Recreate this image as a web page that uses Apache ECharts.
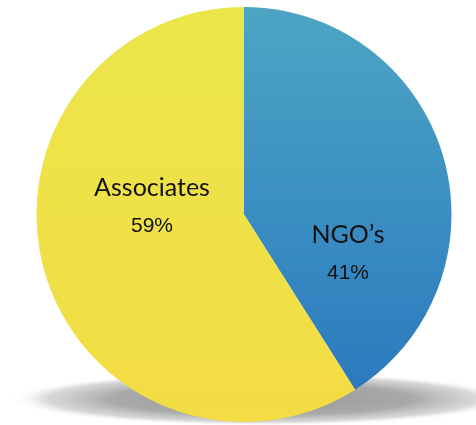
<!DOCTYPE html>
<html><head><meta charset="utf-8">
<script src="https://cdn.jsdelivr.net/npm/echarts@6/dist/echarts.min.js"></script>
<style>html,body{margin:0;padding:0;background:#fff}#c{width:476px;height:425px}</style>
</head><body><div id="c"></div>
<script>
const categories = ["NGO\u2019s", "Associates"];
const values = [41, 59];
const sliceColors = [["#4da5c4", "#2b7abf"], ["#ebe64b", "#f3dc44"]];

const chart = echarts.init(document.getElementById('c'));
const labelPos = [[348, 254], [152, 207]];
chart.setOption({
  animation: false,
  graphic: [{
    type: 'circle', z: 0, silent: true,
    x: 262, y: 399, scaleY: 27 / 252,
    shape: { cx: 0, cy: 0, r: 252 },
    style: {
      fill: new echarts.graphic.RadialGradient(0.5, 0.5, 0.5, [
        { offset: 0, color: 'rgba(150,150,150,1)' },
        { offset: 0.6, color: 'rgba(165,165,165,0.95)' },
        { offset: 0.85, color: 'rgba(190,190,190,0.6)' },
        { offset: 1, color: 'rgba(255,255,255,0)' }
      ])
    }
  }],
  series: [{
    type: 'pie', z: 5,
    center: [244, 214.5],
    radius: 207.5,
    startAngle: 90,
    clockwise: true,
    data: categories.map((n, i) => ({
      name: n, value: values[i],
      itemStyle: {
        color: new echarts.graphic.LinearGradient(0, 0, 0, 1, [
          { offset: 0, color: sliceColors[i][0] },
          { offset: 1, color: sliceColors[i][1] }
        ])
      }
    })),
    itemStyle: { borderWidth: 0 },
    label: {
      show: true, position: 'inside',
      formatter: '{n|{b}}\n{p|{d}%}',
      rich: {
        n: { fontFamily: 'Lato', fontSize: 25, color: '#111', lineHeight: 38, align: 'center' },
        p: { fontFamily: 'Liberation Sans', fontSize: 21, color: '#111', lineHeight: 38, align: 'center' }
      }
    },
    labelLine: { show: false },
    labelLayout: function (params) {
      const p = labelPos[params.dataIndex];
      return { x: p[0], y: p[1], align: 'center', verticalAlign: 'middle' };
    }
  }]
});
</script></body></html>
